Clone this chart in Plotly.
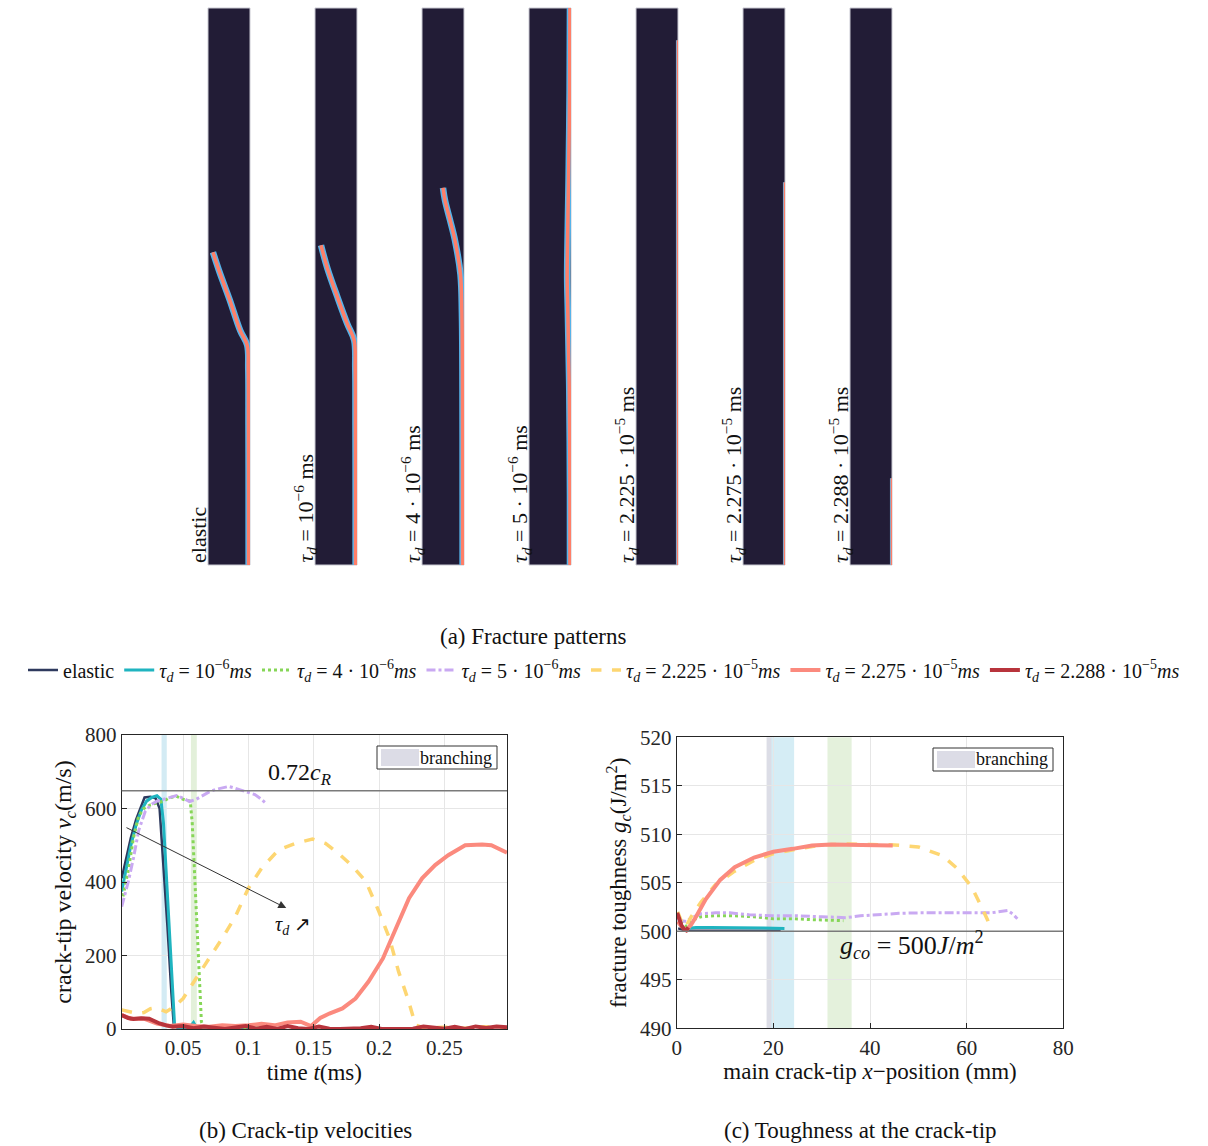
import plotly.graph_objects as go

# ---------------- data: (b) crack-tip velocities ----------------
el_t = [0.003, 0.006, 0.010, 0.014, 0.018, 0.0205, 0.025, 0.029, 0.032, 0.035, 0.038, 0.041, 0.043]
el_v = [410, 460, 520, 570, 610, 630, 632, 628, 600, 450, 280, 100, 5]
cy_t = [0.003, 0.006, 0.010, 0.014, 0.018, 0.022, 0.026, 0.030, 0.033, 0.035, 0.037, 0.039, 0.041, 0.0435,
        0.046, 0.050, 0.055, 0.058, 0.060, 0.065, 0.070, 0.075, 0.080, 0.090, 0.100]
cy_v = [374, 430, 500, 555, 595, 620, 630, 635, 625, 560, 430, 300, 160, 10, 3, 2, 4, 18, 5, 2, 6, 3, 1, 4, 2]
gr_t = [0.003, 0.008, 0.012, 0.016, 0.020, 0.025, 0.030, 0.035, 0.040, 0.045, 0.050, 0.0555, 0.057, 0.059,
        0.061, 0.063, 0.064, 0.066, 0.070, 0.080, 0.090, 0.100, 0.110]
gr_v = [345, 430, 520, 580, 600, 610, 615, 620, 630, 633, 625, 620, 560, 420, 270, 100, 20, 3, 2, 5, 2, 4, 2]
vi_t = [0.003, 0.008, 0.012, 0.016, 0.021, 0.026, 0.030, 0.035, 0.040, 0.045, 0.050, 0.055, 0.060, 0.065,
        0.070, 0.075, 0.080, 0.085, 0.090, 0.095, 0.100, 0.105, 0.110, 0.114]
vi_v = [333, 400, 465, 540, 592, 612, 620, 625, 632, 635, 628, 619, 625, 635, 645, 652, 657, 660, 655, 650,
        645, 638, 625, 612]
ye_t = [0.003, 0.010, 0.015, 0.020, 0.025, 0.030, 0.037, 0.043, 0.050, 0.060, 0.070, 0.080, 0.090, 0.100,
        0.110, 0.123, 0.136, 0.149, 0.159, 0.169, 0.180, 0.190, 0.200, 0.208, 0.215, 0.222, 0.228, 0.235,
        0.250, 0.265, 0.280, 0.298]
ye_v = [52, 45, 42, 45, 55, 58, 47, 60, 83, 138, 192, 247, 306, 383, 437, 487, 505, 517, 505, 478, 442, 401,
        319, 247, 156, 83, 11, 2, 5, 2, 6, 3]
sa_t = [0.003, 0.010, 0.020, 0.030, 0.040, 0.050, 0.060, 0.070, 0.080, 0.090, 0.100, 0.110, 0.120, 0.130,
        0.140, 0.148, 0.155, 0.162, 0.172, 0.182, 0.192, 0.203, 0.213, 0.223, 0.233, 0.243, 0.253, 0.266,
        0.279, 0.286, 0.298]
sa_v = [38, 28, 28, 15, 8, 12, 8, 6, 10, 8, 10, 14, 10, 18, 20, 8, 30, 42, 56, 83, 129, 192, 274, 356, 410,
        446, 473, 500, 502, 500, 480]
dr_t = [0.003, 0.008, 0.012, 0.018, 0.024, 0.028, 0.032, 0.037, 0.042, 0.050, 0.058, 0.066, 0.074, 0.082,
        0.090, 0.098, 0.106, 0.114, 0.122, 0.130, 0.138, 0.146, 0.154, 0.162, 0.170, 0.178, 0.186, 0.194,
        0.202, 0.210, 0.218, 0.226, 0.234, 0.242, 0.250, 0.258, 0.266, 0.274, 0.282, 0.290, 0.298]
dr_v = [38, 30, 27, 29, 28, 20, 15, 10, 6, 8, 2, 7, 3, 0, 4, 8, 1, 6, 0, 8, 2, 0, 7, 1, 0, 1, 2, 6, 0, 0, 0,
        1, 7, 5, 1, 6, 0, 7, 3, 7, 5]
v_ref = 648            # 0.72 c_R
b_bands = [(0.0335, 0.0375, "#d3ebf4"), (0.0560, 0.0605, "#e3f0da")]

# ---------------- data: (c) toughness at crack tip ----------------
el_x = [0.3, 2, 5, 10, 15, 21.5]
el_g = [500.3, 500.05, 500.05, 500.05, 500.05, 500.05]
cy_x = [0.2, 1, 2, 4, 7, 10, 14, 18, 22.3]
cy_g = [501.0, 500.5, 500.3, 500.4, 500.4, 500.4, 500.4, 500.35, 500.3]
gr_x = [0.2, 1, 2, 3, 5, 8, 12, 16, 20, 24, 28, 32, 34.5]
gr_g = [501.6, 501.0, 500.5, 501.1, 501.5, 501.6, 501.6, 501.5, 501.3, 501.3, 501.2, 501.1, 501.1]
vi_x = [0.2, 1, 2, 3, 5, 8, 11, 15, 20, 25, 30, 35, 38, 42, 46, 50, 55, 60, 65, 68.5, 69.5, 70.5]
vi_g = [501.3, 501.1, 501.0, 501.4, 501.8, 501.9, 501.9, 501.7, 501.6, 501.6, 501.5, 501.4, 501.6, 501.75,
        501.85, 501.9, 501.9, 501.9, 501.9, 502.15, 501.8, 501.3]
ye_x = [0.2, 1, 1.8, 3, 5, 8, 12, 16, 20, 25, 30, 35, 40, 45, 50, 55, 58, 61, 63, 64.3, 65.1]
ye_g = [502.0, 501.0, 500.4, 501.5, 503.0, 504.8, 506.2, 507.3, 508.0, 508.5, 508.9, 509.0, 508.95, 508.9,
        508.7, 507.8, 506.5, 504.6, 502.6, 501.2, 500.0]
sa_x = [0.2, 1, 2, 3, 4, 6, 9, 12, 16, 20, 24, 28, 32, 36, 40, 44.7]
sa_g = [501.0, 500.5, 500.1, 500.7, 501.5, 503.3, 505.3, 506.6, 507.6, 508.2, 508.5, 508.85, 508.95, 508.95,
        508.95, 508.85]
dr_x = [0.1, 0.5, 1.0, 1.5, 2.0, 2.4]
dr_g = [501.9, 501.2, 500.6, 500.2, 500.1, 500.4]
g_ref = 500
c_bands = [(18.6, 19.8, "#dcdde6"), (19.6, 24.3, "#d5edf5"), (31.2, 36.2, "#e4f1dc")]

# ---------------- data: (a) fracture patterns (specimen coords, mm) ----------------
spec_w, spec_h = 6.0, 79.6
crack_x = [
    [5.8, 5.8, 5.78, 5.75, 5.6, 4.6, 3.1, 1.6, 0.71],
    [5.8, 5.8, 5.78, 5.75, 5.6, 4.6, 3.2, 1.8, 0.86],
    [5.8, 5.8, 5.78, 5.7, 5.5, 4.71, 4.0, 3.29, 3.0],
    [5.85, 5.85, 5.75, 5.55, 5.45, 5.5, 5.65, 5.8, 5.85],
    [5.92, 5.92, 5.92],
    [5.92, 5.92, 5.92],
    [5.92, 5.92, 5.92],
]
crack_y = [
    [0, 10, 20, 28, 31.4, 33.5, 37.9, 42.0, 44.7],
    [0, 10, 20, 28, 32.1, 34.5, 38.3, 42.3, 45.7],
    [0, 10, 25, 36, 41.5, 46.4, 49.3, 52.1, 53.9],
    [0, 10, 25, 36, 41, 46, 55, 68, 79.6],
    [0, 10, 75.0],
    [0, 10, 54.7],
    [0, 10, 12.4],
]
crack_thin = [False, False, False, False, True, True, True]
panel_labels = [
    "elastic",
    "<i>τ<sub>d</sub></i> = 10<sup>−6</sup> ms",
    "<i>τ<sub>d</sub></i> = 4 · 10<sup>−6</sup> ms",
    "<i>τ<sub>d</sub></i> = 5 · 10<sup>−6</sup> ms",
    "<i>τ<sub>d</sub></i> = 2.225 · 10<sup>−5</sup> ms",
    "<i>τ<sub>d</sub></i> = 2.275 · 10<sup>−5</sup> ms",
    "<i>τ<sub>d</sub></i> = 2.288 · 10<sup>−5</sup> ms",
]

series_names = [
    "elastic",
    "<i>τ<sub>d</sub></i> = 10<sup>−6</sup><i>ms</i>",
    "<i>τ<sub>d</sub></i> = 4 · 10<sup>−6</sup><i>ms</i>",
    "<i>τ<sub>d</sub></i> = 5 · 10<sup>−6</sup><i>ms</i>",
    "<i>τ<sub>d</sub></i> = 2.225 · 10<sup>−5</sup><i>ms</i>",
    "<i>τ<sub>d</sub></i> = 2.275 · 10<sup>−5</sup><i>ms</i>",
    "<i>τ<sub>d</sub></i> = 2.288 · 10<sup>−5</sup><i>ms</i>",
]
series_colors = ["#2e3a5e", "#1fb4c0", "#86d657", "#c9a9f2", "#fdd672", "#fb8a7e", "#b8343c"]
series_dash = ["solid", "solid", "dot", "dashdot", "dash", "solid", "solid"]
series_width = [2.5, 3, 3, 3, 3.5, 4, 4]

# ---------------- layout helpers ----------------
W, H = 1208, 1146
FONT = "Liberation Serif, Times New Roman, serif"


def px(x):
    return x / W


def py(y):
    return 1 - y / H


fig = go.Figure()

b_t = [el_t, cy_t, gr_t, vi_t, ye_t, sa_t, dr_t]
b_v = [el_v, cy_v, gr_v, vi_v, ye_v, sa_v, dr_v]
c_x = [el_x, cy_x, gr_x, vi_x, ye_x, sa_x, dr_x]
c_g = [el_g, cy_g, gr_g, vi_g, ye_g, sa_g, dr_g]

for i in range(7):
    fig.add_trace(go.Scatter(x=b_t[i], y=b_v[i], mode="lines", name=series_names[i],
                             line=dict(color=series_colors[i], width=series_width[i], dash=series_dash[i]),
                             xaxis="x", yaxis="y", showlegend=True))
for i in range(7):
    fig.add_trace(go.Scatter(x=c_x[i], y=c_g[i], mode="lines", name=series_names[i],
                             line=dict(color=series_colors[i], width=series_width[i], dash=series_dash[i]),
                             xaxis="x2", yaxis="y2", showlegend=False))

# fracture pattern panels
panel_left = [208, 315, 422, 529, 636, 743, 850]
panel_wpx = 42
panel_top, panel_bot = 8, 565
shapes = []
annotations = []
layout_axes = {}
for k in range(7):
    n = k + 3
    xa, ya = f"x{n}", f"y{n}"
    layout_axes[f"xaxis{n}"] = dict(domain=[px(panel_left[k]), px(panel_left[k] + panel_wpx)],
                                    range=[0, spec_w], visible=False, fixedrange=True, anchor=ya)
    layout_axes[f"yaxis{n}"] = dict(domain=[py(panel_bot), py(panel_top)], range=[0, spec_h],
                                    visible=False, fixedrange=True, anchor=xa)
    shapes.append(dict(type="rect", xref=f"{xa} domain", yref=f"{ya} domain", x0=0, x1=1, y0=0, y1=1,
                       fillcolor="#221c36", line=dict(color="#c9c9d2", width=1), layer="below"))
    thin = crack_thin[k]
    fig.add_trace(go.Scatter(x=crack_x[k], y=crack_y[k], mode="lines", showlegend=False, hoverinfo="skip",
                             line=dict(color="#56b4ea", width=3 if thin else 6.5, shape="spline"),
                             xaxis=xa, yaxis=ya))
    fig.add_trace(go.Scatter(x=crack_x[k], y=crack_y[k], mode="lines", showlegend=False, hoverinfo="skip",
                             line=dict(color="#ff7f68", width=1.5 if thin else 3.5, shape="spline"),
                             xaxis=xa, yaxis=ya))
    annotations.append(dict(text=panel_labels[k], xref="paper", yref="paper",
                            x=px(panel_left[k] - 10), y=py(panel_bot), xanchor="center", yanchor="bottom",
                            textangle=-90, showarrow=False, font=dict(family=FONT, size=22, color="#111")))

# branching bands
for (a, b, col) in b_bands:
    shapes.append(dict(type="rect", xref="x", yref="y domain", x0=a, x1=b, y0=0, y1=1,
                       fillcolor=col, line=dict(width=0), layer="below"))
for (a, b, col) in c_bands:
    shapes.append(dict(type="rect", xref="x2", yref="y2 domain", x0=a, x1=b, y0=0, y1=1,
                       fillcolor=col, line=dict(width=0), layer="below"))

# reference lines
shapes.append(dict(type="line", xref="x domain", yref="y", x0=0, x1=1, y0=v_ref, y1=v_ref,
                   line=dict(color="#7a7a7a", width=1.5)))
shapes.append(dict(type="line", xref="x2 domain", yref="y2", x0=0, x1=1, y0=g_ref, y1=g_ref,
                   line=dict(color="#7a7a7a", width=1.5)))

# "branching" legend boxes
for (bx0, by0, bx1, by1) in [(377, 746, 497, 769), (933, 748, 1053, 771)]:
    shapes.append(dict(type="rect", xref="paper", yref="paper", x0=px(bx0), x1=px(bx1), y0=py(by1), y1=py(by0),
                       fillcolor="white", line=dict(color="#333333", width=1)))
    shapes.append(dict(type="rect", xref="paper", yref="paper", x0=px(bx0 + 4), x1=px(bx0 + 42),
                       y0=py(by1 - 3), y1=py(by0 + 3), fillcolor="#dcdce6", line=dict(width=0)))
    annotations.append(dict(text="branching", xref="paper", yref="paper", x=px(bx1 - 3), y=py((by0 + by1) / 2),
                            xanchor="right", yanchor="middle", showarrow=False,
                            font=dict(family=FONT, size=18, color="#111")))

# chart annotations
annotations += [
    dict(text="0.72<i>c<sub>R</sub></i>", x=0.139, y=v_ref, xref="x", yref="y", yanchor="bottom",
         showarrow=False, font=dict(family=FONT, size=24, color="#111")),
    dict(x=0.129, y=329, ax=0.0055, ay=550, xref="x", yref="y", axref="x", ayref="y", text="",
         showarrow=True, arrowhead=2, arrowsize=1.6, arrowwidth=1, arrowcolor="#333"),
    dict(text="<i>τ<sub>d</sub></i> ↗", x=0.134, y=283, xref="x", yref="y", showarrow=False,
         font=dict(family=FONT, size=20, color="#111")),
    dict(text="<i>g<sub>co</sub></i> = 500<i>J</i>/<i>m</i><sup>2</sup>", x=48.7, y=498.6, xref="x2", yref="y2",
         showarrow=False, font=dict(family=FONT, size=26, color="#111")),
    dict(text="(a) Fracture patterns", x=px(533), y=py(636), xref="paper", yref="paper", showarrow=False,
         xanchor="center", yanchor="middle", font=dict(family=FONT, size=23, color="#111")),
    dict(text="(b) Crack-tip velocities", x=px(305), y=py(1130), xref="paper", yref="paper", showarrow=False,
         xanchor="center", yanchor="middle", font=dict(family=FONT, size=23, color="#111")),
    dict(text="(c) Toughness at the crack-tip", x=px(860), y=py(1130), xref="paper", yref="paper",
         xanchor="center", yanchor="middle", showarrow=False, font=dict(family=FONT, size=23, color="#111")),
]

axis_common = dict(showline=True, mirror=True, linecolor="#262626", linewidth=1, ticks="inside", ticklen=5,
                   tickcolor="#262626", showgrid=True, gridcolor="#e6e6e6", zeroline=False, automargin=False,
                   tickfont=dict(family=FONT, size=21, color="#262626"))

fig.update_layout(
    width=W, height=H, margin=dict(l=0, r=0, t=0, b=0),
    paper_bgcolor="white", plot_bgcolor="rgba(0,0,0,0)",
    font=dict(family=FONT, color="#111"),
    xaxis=dict(domain=[px(121.7), px(507)], range=[0.003, 0.298], tickvals=[0.05, 0.1, 0.15, 0.2, 0.25],
               ticktext=["0.05", "0.1", "0.15", "0.2", "0.25"], anchor="y",
               title=dict(text="time <i>t</i>(ms)", font=dict(family=FONT, size=23), standoff=2), **axis_common),
    yaxis=dict(domain=[py(1029), py(735)], range=[0, 800], tickvals=[0, 200, 400, 600, 800], anchor="x",
               title=dict(text="crack-tip velocity <i>v<sub>c</sub></i>(m/s)", font=dict(family=FONT, size=24),
                          standoff=6), **axis_common),
    xaxis2=dict(domain=[px(676.7), px(1063.3)], range=[0, 80], tickvals=[0, 20, 40, 60, 80], anchor="y2",
                title=dict(text="main crack-tip <i>x</i>−position (mm)", font=dict(family=FONT, size=23),
                           standoff=2), **axis_common),
    yaxis2=dict(domain=[py(1028.3), py(737.3)], range=[490, 520], tickvals=[490, 495, 500, 505, 510, 515, 520],
                anchor="x2",
                title=dict(text="fracture toughness <i>g<sub>c</sub></i>(J/m<sup>2</sup>)",
                           font=dict(family=FONT, size=23), standoff=6), **axis_common),
    legend=dict(orientation="h", x=0.5, xanchor="center", y=py(670), yanchor="middle",
                font=dict(family=FONT, size=20, color="#111"), itemwidth=30, tracegroupgap=0,
                bgcolor="rgba(0,0,0,0)"),
    shapes=shapes, annotations=annotations, showlegend=True,
    **layout_axes,
)

fig.write_html("out.html")
